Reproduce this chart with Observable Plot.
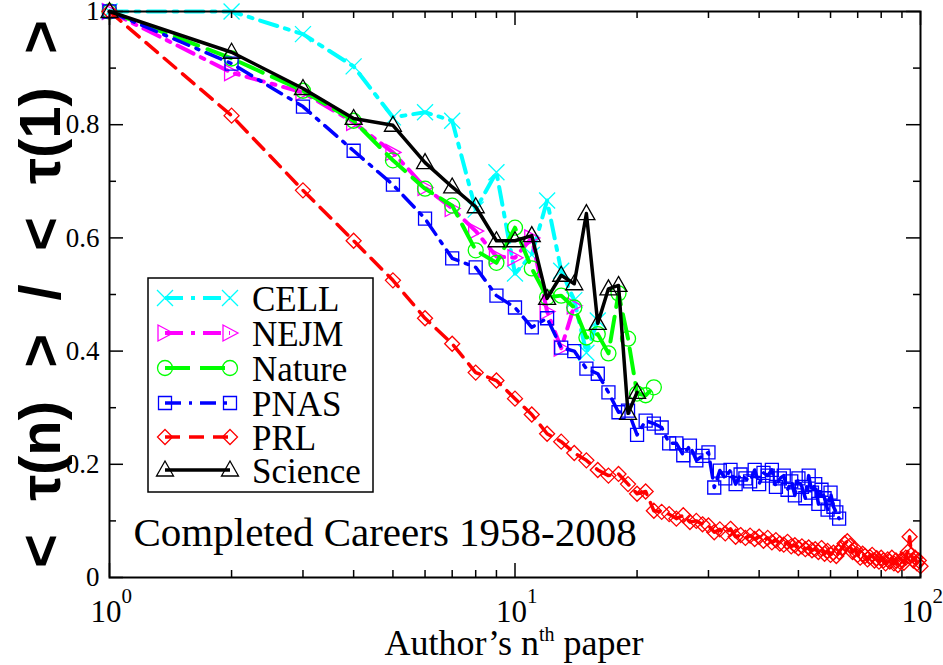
<!DOCTYPE html>
<html><head><meta charset="utf-8">
<script src="https://cdn.jsdelivr.net/npm/d3@7"></script>
<script src="https://cdn.jsdelivr.net/npm/@observablehq/plot@0.6"></script>
<style>body{margin:0;background:#fff} #chart svg{display:block;overflow:visible}
.serif{font-family:"Liberation Serif","Times New Roman",serif !important}
.sans{font-family:"Liberation Sans",Arial,sans-serif !important}</style>
</head><body><div id="chart"></div>
<script>
// ---- data ----
const journals = ["CELL","NEJM","Nature","PNAS","PRL","Science"];
const colors   = ["#00ffff","#ff00ff","#00ff00","#0000ff","#ff0000","#000000"];

const cellValues = [1.0,1.0,0.96,0.903,0.813,0.822,0.807,0.65,0.716,0.537,0.57,0.666,0.542,0.49,0.397,0.454];
const nejmValues = [1.0,0.892,0.857,0.804,0.751,0.689,0.652,0.612,0.567,0.565,0.6,0.47,0.405,0.48];
const natureValues = [1.0,0.917,0.86,0.807,0.737,0.687,0.657,0.578,0.556,0.618,0.546,0.495,0.498,0.477,0.424,0.43,0.396,0.502,0.422,0.325,0.322,0.336];
const pnasValues = [1.0,0.908,0.832,0.754,0.694,0.634,0.564,0.548,0.498,0.477,0.442,0.458,0.406,0.40,0.369,0.36,0.327,0.292,0.295,0.252,
  0.277,0.272,0.265,0.237,0.237,0.216,0.233,0.207,0.215,0.221,0.159,0.189,0.175,0.19,0.165,0.182,0.175,0.17,0.19,0.165,
  0.185,0.18,0.19,0.16,0.175,0.18,0.155,0.17,0.145,0.175,0.16,0.14,0.18,0.15,0.165,0.13,0.155,0.14,0.12,0.15,
  0.125,0.115,0.104];
const prlValues = [1.0,0.816,0.684,0.595,0.525,0.458,0.413,0.362,0.348,0.316,0.288,0.254,0.24,0.22,0.207,0.19,0.18,0.183,0.165,0.148,
  0.152,0.118,0.116,0.112,0.104,0.11,0.098,0.10,0.094,0.092,0.08,0.085,0.078,0.086,0.072,0.075,0.07,0.074,0.068,0.072,
  0.065,0.07,0.062,0.066,0.06,0.058,0.063,0.055,0.057,0.052,0.055,0.05,0.053,0.048,0.05,0.045,0.052,0.042,0.047,0.04,
  0.044,0.038,0.045,0.052,0.06,0.064,0.056,0.045,0.05,0.04,0.035,0.042,0.038,0.032,0.036,0.04,0.03,0.034,0.028,0.035,
  0.03,0.025,0.032,0.028,0.035,0.025,0.03,0.022,0.028,0.032,0.026,0.035,0.045,0.072,0.04,0.03,0.035,0.025,0.03,0.02];
const scienceValues = [1.0,0.928,0.864,0.811,0.799,0.733,0.69,0.655,0.595,0.595,0.604,0.493,0.534,0.519,0.643,0.449,0.51,0.516,0.29,0.327];

const seriesValues = [cellValues,nejmValues,natureValues,pnasValues,prlValues,scienceValues];
const xMajorTicks = [1,10,100];
const xMinorTicks = [2,3,4,5,6,7,8,9,20,30,40,50,60,70,80,90];
const yMajorTicks = [0,0.2,0.4,0.6,0.8,1];
const yMinorTicks = [0.1,0.3,0.5,0.7,0.9];
const yTickLabels = ["0","0.2","0.4","0.6","0.8","1"];
const xTickExponents = ["0","1","2"];
const yTitleParts = ["<","\u03c4(n)",">","/","<","\u03c4(1)",">"];

// ---- styles ----
const dashes = ["18,8,4,8","18,8,4,8","25,10","16,8,3,8","15,9",null];
const widths = [4,4,4,3.5,3.5,3.5];
const sym = {
  cross:{draw(c){c.moveTo(-8,-8);c.lineTo(8,8);c.moveTo(8,-8);c.lineTo(-8,8);}},
  triRight:{draw(c){c.moveTo(8,0);c.lineTo(-7,-8);c.lineTo(-7,8);c.closePath();}},
  circle:{draw(c){c.moveTo(7.5,0);c.arc(0,0,7.5,0,2*Math.PI);}},
  square:{draw(c){c.rect(-6.5,-6.5,13,13);}},
  diamond:{draw(c){c.moveTo(0,-7.5);c.lineTo(7.5,0);c.lineTo(0,7.5);c.lineTo(-7.5,0);c.closePath();}},
  triUp:{draw(c){c.moveTo(0,-9);c.lineTo(8.5,6);c.lineTo(-8.5,6);c.closePath();}}
};
const symbols = [sym.cross,sym.triRight,sym.circle,sym.square,sym.diamond,sym.triUp];

const W = 943, H = 665, mL = 109, mR = 23, mT = 11, mB = 88;
const pW = W - mL - mR, pH = H - mT - mB;

const marks = [];
seriesValues.forEach((vals, i) => {
  const rows = vals.map((v, k) => ({journal: journals[i], n: k + 1, v}));
  marks.push(Plot.line(rows, {x:"n", y:"v", stroke: colors[i], strokeWidth: widths[i],
    strokeDasharray: dashes[i] || undefined, strokeLinejoin:"round"}));
  marks.push(Plot.dot(rows, {x:"n", y:"v", symbol: symbols[i], r: 8, stroke: colors[i], fill:"none", strokeWidth: 1.3}));
});

const tickStyle = {stroke:"black", strokeWidth:1.5};
marks.push(
  Plot.ruleX(xMajorTicks, {x:d=>d, insetTop: pH-14, ...tickStyle}),
  Plot.ruleX(xMinorTicks, {x:d=>d, insetTop: pH-7, ...tickStyle}),
  Plot.ruleX(xMajorTicks, {x:d=>d, insetBottom: pH-14, ...tickStyle}),
  Plot.ruleX(xMinorTicks, {x:d=>d, insetBottom: pH-7, ...tickStyle}),
  Plot.ruleY(yMajorTicks, {y:d=>d, insetRight: pW-14, ...tickStyle}),
  Plot.ruleY(yMinorTicks, {y:d=>d, insetRight: pW-7, ...tickStyle}),
  Plot.ruleY(yMajorTicks, {y:d=>d, insetLeft: pW-14, ...tickStyle}),
  Plot.ruleY(yMinorTicks, {y:d=>d, insetLeft: pW-7, ...tickStyle}),
  Plot.frame({stroke:"black", strokeWidth:2}),
  Plot.axisY({ticks: yMajorTicks, tickSize: 0, tickPadding: 10, fontSize: 27,
    tickFormat: d => yTickLabels[yMajorTicks.indexOf(d)], label: null}),
  Plot.axisX({ticks: [], label: null}),
  Plot.text(xMajorTicks, {x:d=>d, text:()=>"10", frameAnchor:"bottom", lineAnchor:"bottom",
    textAnchor:"end", dx: 12, dy: 44, fontSize: 31}),
  Plot.text(xMajorTicks, {x:d=>d, text:(d,i)=>xTickExponents[i], frameAnchor:"bottom", lineAnchor:"bottom",
    textAnchor:"start", dx: 12, dy: 25, fontSize: 21}),
  Plot.text(["Completed Careers 1958-2008"], {frameAnchor:"bottom-left", lineAnchor:"bottom",
    textAnchor:"start", dx: 24, dy: -32, fontSize: 41})
);

const chart = Plot.plot({
  width: W, height: H, marginLeft: mL, marginRight: mR, marginTop: mT, marginBottom: mB,
  x: {type:"log", domain:[1,100]},
  y: {domain:[0,1]},
  style: {fontFamily:"'Liberation Serif', 'Times New Roman', serif", color:"black", background:"white", overflow:"visible"},
  marks
});
document.getElementById("chart").appendChild(chart);
d3.select(chart).selectAll("text").classed("serif", true);

// ---- annotations: axis titles and legend ----
const svg = d3.select(chart);
const xt = svg.append("text").attr("class","serif").attr("x", 514).attr("y", 655).attr("text-anchor","middle")
  .attr("font-size", 36).attr("fill","black");
xt.append("tspan").text("Author\u2019s n");
xt.append("tspan").attr("font-size", 20).attr("dy", -14).text("th");
xt.append("tspan").attr("dy", 14).text(" paper");

// y title: glyph groups spread along the axis
const yt = svg.append("text").attr("class","sans").attr("transform","translate(60,294) rotate(-90)")
  .attr("text-anchor","start").attr("x", 0).attr("font-size", 58).attr("font-weight","bold").attr("fill","black");
const spans = yTitleParts.map(t => yt.append("tspan").text(t));
const targetLen = 548;
const rawLen = yt.node().getComputedTextLength();
const gap = Math.max(0, (targetLen - rawLen) / (yTitleParts.length - 1));
spans.forEach((s, k) => { if (k > 0) s.attr("dx", gap); });
yt.attr("x", -targetLen / 2);

const lg = svg.append("g");
lg.append("rect").attr("x",148).attr("y",278).attr("width",225).attr("height",214)
  .attr("fill","white").attr("stroke","black").attr("stroke-width",1.5);
const rowY = [298,333,368,403,437,470];
journals.forEach((j, i) => {
  const y = rowY[i];
  lg.append("line").attr("x1",165).attr("x2",230).attr("y1",y).attr("y2",y)
    .attr("stroke",colors[i]).attr("stroke-width",widths[i]).attr("stroke-dasharray",dashes[i]||null);
  [165,230].forEach(x => {
    const p = d3.path(); symbols[i].draw(p, 0);
    lg.append("path").attr("d", p.toString()).attr("transform",`translate(${x},${y})`)
      .attr("fill","none").attr("stroke",colors[i]).attr("stroke-width",1.3);
  });
  lg.append("text").attr("class","serif").attr("x",252).attr("y",y+13).attr("text-anchor","start")
    .attr("font-size",35).attr("fill","black").text(j);
});
</script></body></html>
